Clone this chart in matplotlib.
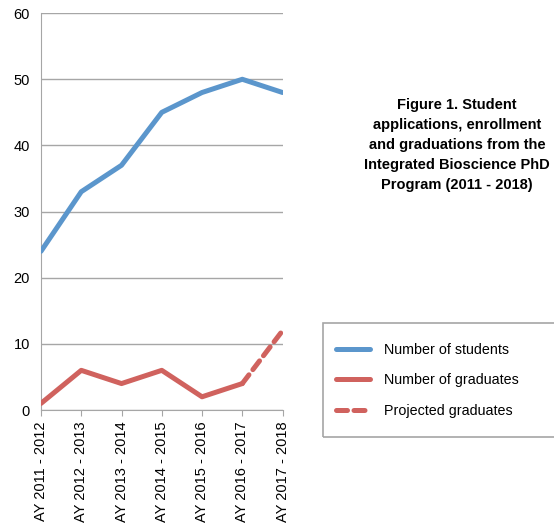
import matplotlib.pyplot as plt
from matplotlib.patches import Rectangle

plt.rcParams['font.family'] = ['Liberation Sans', 'DejaVu Sans']

# data
years = ["AY 2011 - 2012", "AY 2012 - 2013", "AY 2013 - 2014", "AY 2014 - 2015",
         "AY 2015 - 2016", "AY 2016 - 2017", "AY 2017 - 2018"]
students = [24, 33, 37, 45, 48, 50, 48]
graduates = [1, 6, 4, 6, 2, 4]
projected_x = [5, 6]
projected = [4, 12]

blue = '#5b96cc'
red = '#d0625e'
grey = '#a6a6a6'

fig = plt.figure(figsize=(5.54, 5.25), dpi=100)
ax = fig.add_axes([0.074, 0.219, 0.436, 0.756])

x = list(range(len(years)))
ax.plot(x, students, color=blue, lw=3.6, solid_capstyle='round',
        solid_joinstyle='round', label='Number of students', zorder=3)
ax.plot(x[:len(graduates)], graduates, color=red, lw=3.6, solid_capstyle='round',
        solid_joinstyle='round', label='Number of graduates', zorder=3)
ax.plot(projected_x, projected, color=red, lw=3.6, dashes=(2.2, 1.3),
        dash_capstyle='round', label='Projected graduates', zorder=3)

ax.set_xlim(0, 6)
ax.set_ylim(0, 60)
ax.set_yticks(range(0, 61, 10))
ax.set_xticks(x)
ax.set_xticklabels(years, rotation=90, fontsize=10.5)
ax.tick_params(axis='y', labelsize=10.5, length=0, pad=8)
ax.tick_params(axis='x', length=4, color=grey, pad=4)
ax.yaxis.grid(True, color=grey, lw=1)
ax.set_axisbelow(True)
for s in ['top', 'right']:
    ax.spines[s].set_visible(False)
ax.spines['left'].set_color(grey)
ax.spines['bottom'].set_color(grey)

# title block on the right
fig.text(0.825, 0.724, "Figure 1. Student\napplications, enrollment\nand graduations from the\n"
         "Integrated Bioscience PhD\nProgram (2011 - 2018)",
         ha='center', va='center', fontsize=10.5, fontweight='bold', linespacing=1.55)

# legend box (runs off the right edge like the original)
fig.patches.append(Rectangle((0.583, 0.168), 0.45, 0.217, transform=fig.transFigure,
                             fill=False, edgecolor=grey, lw=1.2))
leg = fig.legend(loc='upper left', bbox_to_anchor=(0.6065, 0.347), fontsize=10.3,
                 frameon=False, borderpad=0, labelspacing=1.15,
                 handlelength=2.4, handletextpad=0.95, borderaxespad=0)

fig.savefig('out.png', dpi=100)
